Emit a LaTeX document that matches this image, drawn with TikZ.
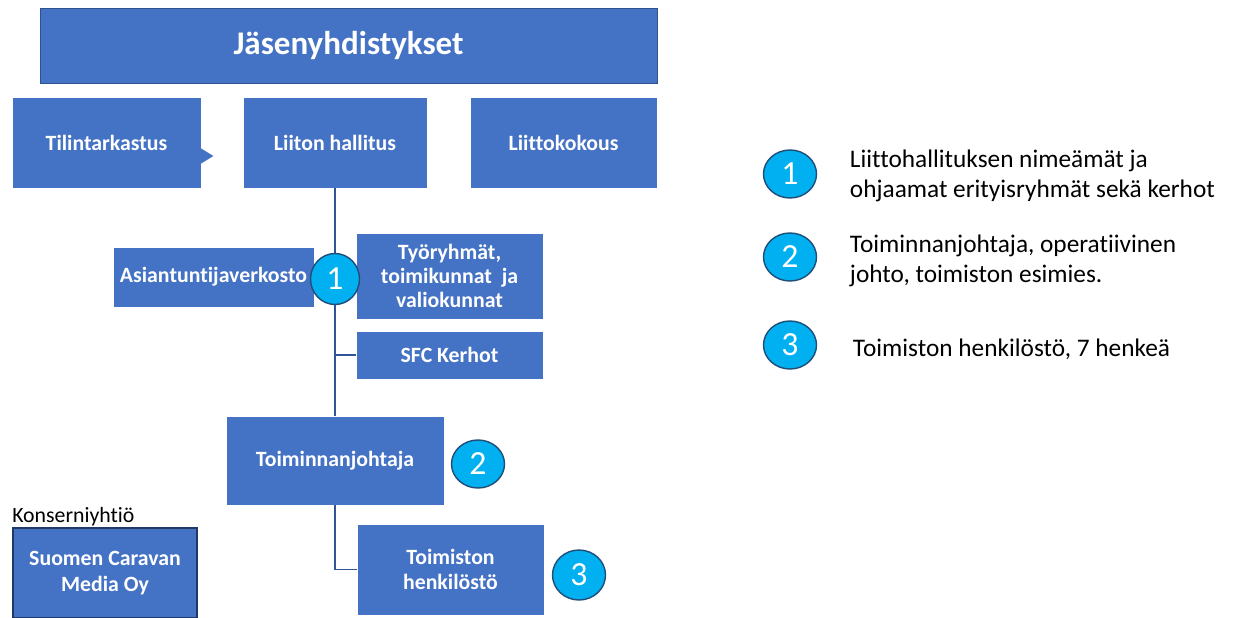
\documentclass[tikz,border=0pt]{standalone}
\usepackage{fontspec}
\setmainfont{Carlito}[Ligatures=NoCommon,Contextuals=NoAlternate]
\usetikzlibrary{shapes.geometric}

\definecolor{boxblue}{HTML}{4472C4}
\definecolor{edgeblue}{HTML}{2F528F}
\definecolor{medianavy}{HTML}{1F3864}
\definecolor{linkblue}{HTML}{2F5597}
\definecolor{numcyan}{HTML}{00B0F0}
\definecolor{numedge}{HTML}{1F4E79}

\begin{document}
\begin{tikzpicture}[x=0.025cm,y=-0.025cm,
  orgbox/.style={fill=boxblue,draw=white,line width=0.5pt,text=white,align=center,inner sep=0pt,font=\bfseries\fontsize{15.5}{18}\selectfont},
  numdot/.style={ellipse,fill=numcyan,draw=numedge,line width=1pt,text=white,inner sep=0pt,minimum width=1.325cm,minimum height=1.2cm,font=\fontsize{24}{24}\selectfont},
  link/.style={draw=linkblue,line width=1.4pt},
  legtext/.style={anchor=west,align=left,font=\fontsize{18}{21.5}\selectfont}]

\useasboundingbox (0,0) rectangle (1240,617);

%top
\node[orgbox,draw=edgeblue,minimum width=15.425cm,minimum height=1.875cm,font=\bfseries\fontsize{23.5}{27}\selectfont] (jasen) at (348.5,46) {Jäsenyhdistykset};

%row 2
\node[orgbox,minimum width=4.725cm,minimum height=2.275cm] (tilin) at (106.5,142.5) {Tilintarkastus};
\fill[boxblue] (tilin.east) ++(-1,5.5) -- ++(13,8) -- ++(-13,8) -- cycle;
\node[orgbox,minimum width=4.6cm,minimum height=2.275cm] (hallitus) at (335,142.5) {Liiton hallitus};
\node[orgbox,minimum width=4.675cm,minimum height=2.275cm] (kokous) at (563.5,142.5) {Liittokokous};

%groups
\node[orgbox,minimum width=5.025cm,minimum height=1.5cm] (asiant) at (213.5,277) {Asiantuntijaverkosto};
\node[orgbox,minimum width=4.675cm,minimum height=2.15cm,font=\bfseries\fontsize{15.5}{17}\selectfont] (tyo) at (449.5,276) {Työryhmät,\\toimikunnat~ ja\\valiokunnat};
\node[orgbox,minimum width=4.675cm,minimum height=1.2cm] (sfc) at (449.5,355) {SFC Kerhot};

%office
\node[orgbox,minimum width=5.45cm,minimum height=2.225cm] (johtaja) at (335,460.5) {Toiminnanjohtaja};
\node[orgbox,minimum width=4.675cm,minimum height=2.275cm] (henk) at (450.5,569.5) {Toimiston\\henkilöstö};

%links
\path[link] (hallitus.south) -- (johtaja.north);
\path[link] (sfc.west) -- (sfc.west -| hallitus.south);
\path[link] (johtaja.south) |- (henk.west);

%numbers
\node[numdot,minimum width=1.225cm,minimum height=1.275cm] (c1) at (335,279) {1};
\node[numdot] (c2) at (478,464) {2};
\node[numdot,minimum height=1.25cm] (c3) at (579,575) {3};

%group company
\node[anchor=base west,inner sep=0pt,font=\fontsize{15.5}{18}\selectfont] (konserni) at (12,522) {Konserniyhtiö};
\node[orgbox,draw=medianavy,line width=1.4pt,minimum width=4.6cm,minimum height=2.25cm,font=\bfseries\fontsize{15.5}{19}\selectfont] (media) at (105,573) {Suomen Caravan\\Media Oy};

%legend
\node[numdot] (l1) at (790,174) {1};
\node[legtext] (t1) at (845,176) {Liittohallituksen nimeämät ja\\ohjaamat erityisryhmät sekä kerhot};
\node[numdot] (l2) at (790,257) {2};
\node[legtext] (t2) at (845,261) {Toiminnanjohtaja, operatiivinen\\johto, toimiston esimies.};
\node[numdot] (l3) at (790,345) {3};
\node[legtext] (t3) at (848,349) {Toimiston henkilöstö, 7 henkeä};

\end{tikzpicture}
\end{document}
